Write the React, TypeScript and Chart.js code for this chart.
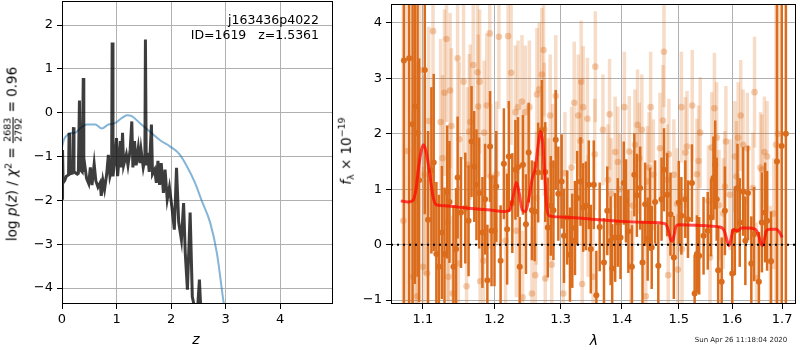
import React, { useEffect, useRef } from 'react';
import { Chart, registerables } from 'chart.js';

Chart.register(...registerables);

const FONT = "'DejaVu Sans', 'Liberation Sans', sans-serif";

// ---------------- left panel: log p(z) ----------------
const zTicks = [0, 1, 2, 3, 4];
const logpTicks = [-4, -3, -2, -1, 0, 1, 2];
const zRange = [0, 4.97];
const logpRange = [-4.365, 2.548];

const zPz = [
  0.00, 0.01, 0.02, 0.05, 0.08, 0.12, 0.13, 0.14, 0.19, 0.21,
  0.22, 0.28, 0.30, 0.32, 0.335, 0.37, 0.39, 0.40, 0.42, 0.45,
  0.49, 0.52, 0.55, 0.59, 0.62, 0.66, 0.70, 0.72, 0.75, 0.78,
  0.82, 0.85, 0.88, 0.91, 0.92, 0.935, 0.97, 1.00, 1.02, 1.05,
  1.07, 1.09, 1.11, 1.13, 1.18, 1.21, 1.25, 1.28, 1.30, 1.33,
  1.36, 1.40, 1.43, 1.45, 1.49, 1.52, 1.53, 1.545, 1.57, 1.60,
  1.64, 1.66, 1.70, 1.73, 1.76, 1.79, 1.82, 1.86, 1.89, 1.93,
  1.97, 2.02, 2.06, 2.10, 2.14, 2.19, 2.23, 2.26, 2.30, 2.35,
  2.39, 2.44, 2.49, 2.52, 2.55,
];
const logPz = [
  -1.95, -0.85, -1.60, -1.55, -1.45, -1.42, -0.46, -1.40, -1.38, -0.33,
  -1.35, -1.40, -1.38, 0.28, -1.30, -1.35, 0.79, -1.35, -1.22, -1.50,
  -1.62, -1.25, -1.65, -1.17, -1.55, -1.70, -1.60, -1.90, -1.55, -1.75,
  -1.40, -0.96, -1.45, -1.30, 1.60, -1.45, -1.07, -0.58, -1.45, -1.00,
  -0.65, -1.25, -0.46, -1.20, -0.95, -1.20, -0.85, -0.20, -1.25, -0.65,
  -1.20, -0.80, -1.15, -0.85, -1.25, -1.05, 1.67, -1.20, -0.92, -1.35,
  -0.27, -1.40, -1.30, -1.60, -1.10, -1.65, -1.15, -1.83, -1.30, -1.98,
  -1.70, -2.20, -2.67, -1.26, -2.50, -2.90, -2.06, -3.19, -4.04, -2.28,
  -4.20, -4.50, -4.40, -3.81, -4.60,
];

const zPrior = [
  0.00, 0.04, 0.09, 0.15, 0.24, 0.33, 0.45, 0.61, 0.73, 0.85,
  0.97, 1.10, 1.19, 1.28, 1.43, 1.61, 1.80, 1.98, 2.15, 2.29,
  2.44, 2.56, 2.72, 2.84, 2.96, 3.02,
];
const logPrior = [
  -0.78, -0.60, -0.52, -0.47, -0.46, -0.36, -0.27, -0.27, -0.36, -0.27,
  -0.24, -0.12, -0.06, -0.08, -0.24, -0.43, -0.63, -0.77, -0.94, -1.22,
  -1.60, -2.00, -2.52, -3.20, -4.30, -4.80,
];

// ---------------- right panel: spectrum ----------------
const lamTicks = [1.1, 1.2, 1.3, 1.4, 1.5, 1.6, 1.7];
const fluxTicks = [-1, 0, 1, 2, 3, 4];
const lamRange = [1.0584, 1.7289];
const fluxRange = [-1.07, 4.34];
const zeroLevel = 0;

const lamDark = [
  1.0751, 1.0820, 1.0864, 1.0894, 1.0930, 1.0951, 1.1026, 1.1070, 1.1115, 1.1146,
  1.1182, 1.1216, 1.1257, 1.1293, 1.1330, 1.1361, 1.1416, 1.1452, 1.1474, 1.1521,
  1.1581, 1.1627, 1.1669, 1.1707, 1.1739, 1.1777, 1.1824, 1.1862, 1.1895, 1.1934,
  1.1955, 1.1998, 1.2024, 1.2087, 1.2135, 1.2183, 1.2208, 1.2260, 1.2306, 1.2345,
  1.2370, 1.2419, 1.2464, 1.2505, 1.2555, 1.2596, 1.2650, 1.2707, 1.2759, 1.2799,
  1.2845, 1.2886, 1.2922, 1.2963, 1.3015, 1.3052, 1.3104, 1.3147, 1.3184, 1.3227,
  1.3263, 1.3316, 1.3359, 1.3403, 1.3450, 1.3483, 1.3532, 1.3574, 1.3629, 1.3700,
  1.3755, 1.3811, 1.3837, 1.3887, 1.3931, 1.3977, 1.4032, 1.4071, 1.4111, 1.4172,
  1.4213, 1.4257, 1.4315, 1.4355, 1.4401, 1.4445, 1.4488, 1.4516, 1.4575, 1.4632,
  1.4690, 1.4733, 1.4791, 1.4850, 1.4910, 1.5000, 1.5047, 1.5119, 1.5168, 1.5241,
  1.5291, 1.5333, 1.5375, 1.5457, 1.5536, 1.5598, 1.5643, 1.5677, 1.5705, 1.5733,
  1.5800, 1.5862, 1.6004, 1.6054, 1.6106, 1.6150, 1.6216, 1.6260, 1.6312, 1.6378,
  1.6431, 1.6529, 1.6589, 1.6654, 1.6694, 1.6774, 1.6895, 1.6992, 1.7078,
];
const fluxDark = [
  3.32, 3.36, 2.17, 2.49, 2.02, 1.16, 3.15, 0.45, 1.34, 1.48,
  -0.17, -0.40, 0.22, -0.17, 0.95, 0.77, -0.40, -0.08, 1.21, 0.58,
  0.66, 0.43, 1.86, 1.41, 1.08, 0.93, 0.22, 0.82, -0.64, 1.77,
  0.25, 0.25, 1.05, -0.29, 1.46, 0.28, 1.59, 0.75, 1.35, 1.40,
  -0.40, 1.44, 0.37, 1.66, 0.62, 0.60, 1.30, 2.07, 1.31, 0.31,
  0.70, 0.62, 1.89, 0.92, 1.14, 0.16, 0.49, -0.18, 0.07, 0.30,
  0.84, 1.14, 0.67, 0.70, 1.08, -0.08, 1.08, -0.91, 0.32, -0.32,
  0.61, 0.07, -0.43, 0.13, 0.40, 0.13, 1.11, 0.79, 0.24, -0.40,
  1.26, 0.89, 1.02, -0.32, 0.73, 0.10, 0.64, -0.05, 0.77, -0.38,
  0.82, 1.35, 0.90, 0.55, -0.23, 0.76, 0.52, 0.82, 0.46, 1.11,
  -0.88, -0.17, -0.20, 0.16, 0.25, 0.49, 1.20, 1.44, 0.82, -0.46,
  -0.67, 0.61, -0.52, 0.25, 1.02, 0.40, 0.96, 0.07, 0.93, -0.34,
  0.19, -0.67, 0.40, 0.58, 0.43, -0.30, 1.50, 1.78, 2.00,
];
const errDark = [
  5.0, 5.0, 4.0, 3.2, 2.6, 2.2, 2.6, 1.6, 1.5, 1.6,
  1.3, 1.3, 1.2, 1.2, 1.2, 1.1, 1.1, 1.1, 1.1, 1.0,
  1.0, 1.0, 1.0, 1.0, 1.0, 1.0, 1.0, 1.0, 1.0, 1.0,
  1.0, 1.0, 1.0, 1.0, 1.0, 1.0, 1.0, 0.9, 0.9, 0.9,
  0.9, 0.9, 0.9, 0.9, 0.9, 0.9, 0.9, 0.9, 0.9, 0.9,
  0.9, 0.9, 0.9, 0.85, 0.85, 0.85, 0.85, 0.85, 0.85, 0.85,
  0.85, 0.8, 0.8, 0.8, 0.8, 0.8, 0.8, 0.8, 0.8, 0.8,
  0.8, 0.8, 0.8, 0.8, 0.8, 0.75, 0.75, 0.75, 0.75, 0.75,
  0.75, 0.75, 0.75, 0.75, 0.75, 0.75, 0.75, 0.75, 0.75, 0.75,
  0.75, 0.75, 0.75, 0.75, 0.75, 0.75, 0.7, 0.7, 0.7, 0.7,
  0.7, 0.7, 0.7, 0.7, 0.7, 0.7, 0.75, 0.8, 0.75, 0.8,
  0.8, 0.8, 0.8, 0.8, 0.8, 0.8, 0.8, 0.8, 0.85, 0.85,
  0.85, 0.9, 0.9, 0.9, 0.9, 0.9, 6.0, 6.0, 6.0,
];

const lamLight = [
  1.0743, 1.0794, 1.0872, 1.0916, 1.0924, 1.0960, 1.1004, 1.1026, 1.1057, 1.1079,
  1.1137, 1.1240, 1.1266, 1.1293, 1.1320, 1.1338, 1.1348, 1.1370, 1.1388, 1.1405,
  1.1474, 1.1484, 1.1498, 1.1557, 1.1599, 1.1613, 1.1637, 1.1651, 1.1693, 1.1753,
  1.1763, 1.1784, 1.1791, 1.1838, 1.1848, 1.1886, 1.1929, 1.1943, 1.2029, 1.2062,
  1.2160, 1.2198, 1.2242, 1.2306, 1.2321, 1.2345, 1.2404, 1.2414, 1.2455, 1.2516,
  1.2555, 1.2606, 1.2621, 1.2631, 1.2667, 1.2707, 1.2733, 1.2745, 1.2759, 1.2809,
  1.2835, 1.2860, 1.2875, 1.2922, 1.3041, 1.3067, 1.3172, 1.3215, 1.3279, 1.3316,
  1.3327, 1.3343, 1.3359, 1.3428, 1.3439, 1.3520, 1.3547, 1.3557, 1.3683, 1.3765,
  1.3793, 1.3820, 1.3887, 1.3931, 1.3959, 1.4043, 1.4127, 1.4155, 1.4184, 1.4223,
  1.4269, 1.4298, 1.4343, 1.4412, 1.4441, 1.4470, 1.4497, 1.4545, 1.4662, 1.4715,
  1.4733, 1.4791, 1.4809, 1.4821, 1.4910, 1.4969, 1.4983, 1.5047, 1.5058, 1.5119,
  1.5150, 1.5246, 1.5333, 1.5364, 1.5394, 1.5549, 1.5579, 1.5611, 1.5661, 1.5705,
  1.5748, 1.5832, 1.5862, 1.5881, 1.5960, 1.6054, 1.6086, 1.6119, 1.6169, 1.6216,
  1.6299, 1.6410, 1.6442, 1.6480, 1.6561, 1.6589, 1.6640, 1.6694, 1.6760, 1.6829,
  1.6875, 1.6916,
];
const fluxLight = [
  0.43, 1.69, -0.58, 0.80, -0.93, 3.15, -0.40, 1.26, -0.52, 2.23,
  3.85, 2.21, 1.56, 2.74, 3.71, 0.40, -0.58, 2.78, 2.14, -0.88,
  3.36, -0.34, 1.90, 2.94, -0.75, 1.44, 2.04, 2.21, 3.24, 3.11,
  2.49, 2.94, -0.66, -0.29, 2.02, 2.51, 3.81, 1.23, 1.28, 3.75,
  0.07, 3.76, 3.10, 2.39, 0.25, 2.48, 2.58, -0.95, 2.39, 2.48,
  -0.88, -0.55, 0.84, 2.71, 2.80, 3.07, 3.51, 2.08, -0.61, 0.82,
  2.33, -0.36, 1.44, 2.68, -0.88, 1.29, 1.39, 2.56, 2.33, 1.87,
  2.94, -0.71, 2.48, 2.27, 0.52, -0.58, 1.63, 3.21, 2.07, 1.17,
  2.35, 0.92, 1.67, 1.49, 1.00, 2.48, 1.68, -0.38, 0.70, 1.80,
  2.16, 1.56, 2.07, -0.93, 1.14, 1.39, 2.48, 1.26, 1.74, 2.24,
  3.48, 1.17, -0.55, 1.63, 1.26, 0.74, -0.45, 2.48, -0.08, 1.66,
  1.77, 2.51, 1.27, 1.51, 2.02, 0.79, -0.23, 1.75, 2.46, 1.93,
  0.71, 0.56, 1.05, 1.86, 0.90, 1.59, 1.23, 1.93, 2.33, 1.80,
  1.74, 1.02, 2.75, -0.60, 1.39, 1.35, 1.67, 1.59, -0.30, 0.56,
  1.80, 2.00,
];
const errLight = [
  4.5, 4.0, 3.0, 2.5, 2.5, 2.0, 1.8, 1.8, 1.7, 1.7,
  1.6, 1.5, 1.5, 1.5, 1.5, 1.4, 1.4, 1.4, 1.4, 1.4,
  1.4, 1.4, 1.4, 1.4, 1.4, 1.4, 1.4, 1.4, 1.3, 1.3,
  1.3, 1.3, 1.3, 1.3, 1.3, 1.3, 1.3, 1.3, 1.3, 1.3,
  1.3, 1.3, 1.3, 1.2, 1.2, 1.2, 1.2, 1.2, 1.2, 1.2,
  1.2, 1.2, 1.2, 1.2, 1.2, 1.2, 1.2, 1.2, 1.2, 1.1,
  1.1, 1.1, 1.1, 1.1, 1.1, 1.1, 1.1, 1.1, 1.1, 1.1,
  1.1, 1.1, 1.1, 1.1, 1.1, 1.0, 1.0, 1.0, 1.0, 1.0,
  1.0, 1.0, 1.0, 1.0, 1.0, 1.0, 1.0, 1.0, 1.0, 1.0,
  1.0, 1.0, 1.0, 1.0, 1.0, 1.0, 1.0, 1.0, 1.0, 1.0,
  1.0, 1.0, 1.0, 1.0, 1.0, 1.0, 1.0, 1.0, 1.0, 1.0,
  1.0, 1.0, 1.0, 1.0, 1.0, 1.0, 1.0, 1.0, 1.0, 1.0,
  1.0, 1.0, 1.0, 1.0, 1.0, 1.0, 1.0, 1.0, 1.0, 1.0,
  1.0, 1.0, 1.0, 1.0, 1.0, 1.0, 1.0, 1.0, 1.0, 1.0,
  6.0, 6.0,
];

const lamModel = [
  1.071, 1.080, 1.087, 1.091, 1.094, 1.098, 1.101, 1.104, 1.108, 1.111,
  1.114, 1.118, 1.130, 1.160, 1.190, 1.215, 1.222, 1.227, 1.232, 1.236,
  1.241, 1.246, 1.251, 1.256, 1.261, 1.265, 1.269, 1.272, 1.275, 1.278,
  1.282, 1.300, 1.350, 1.400, 1.450, 1.475, 1.480, 1.485, 1.488, 1.491,
  1.495, 1.500, 1.550, 1.575, 1.585, 1.591, 1.594, 1.598, 1.602, 1.607,
  1.612, 1.618, 1.630, 1.645, 1.652, 1.657, 1.660, 1.664, 1.668, 1.675,
  1.688, 1.695, 1.700,
];
const fluxModel = [
  0.79, 0.77, 0.80, 1.00, 1.35, 1.70, 1.80, 1.70, 1.40, 1.10,
  0.85, 0.72, 0.70, 0.66, 0.63, 0.60, 0.62, 0.85, 1.12, 0.95,
  0.62, 0.60, 0.85, 1.20, 1.40, 1.80, 2.04, 1.85, 1.30, 0.70,
  0.52, 0.50, 0.46, 0.42, 0.40, 0.38, 0.30, 0.10, 0.06, 0.15,
  0.33, 0.36, 0.34, 0.32, 0.25, 0.05, -0.02, 0.10, 0.27, 0.26,
  0.25, 0.30, 0.30, 0.28, 0.18, 0.02, -0.02, 0.10, 0.25, 0.28,
  0.28, 0.22, 0.13,
];

// ---------------- helpers ----------------
const fmtNum = (v: number, d: number) => (v < 0 ? '\u2212' : '') + Math.abs(v).toFixed(d);
const tickFont = { family: FONT, size: 13 };
const gridOpts = { color: '#b0b0b0', lineWidth: 1, tickColor: '#000', tickLength: 5, drawTicks: true, offset: false };

const boxPlugin = {
  id: 'axesBox',
  afterDatasetsDraw(chart: any) {
    const { ctx, chartArea } = chart;
    ctx.save();
    ctx.strokeStyle = '#000';
    ctx.lineWidth = 1;
    ctx.strokeRect(chartArea.left + 0.5, chartArea.top + 0.5, chartArea.right - chartArea.left - 1, chartArea.bottom - chartArea.top - 1);
    ctx.restore();
  },
};

const DARK = 'rgb(219,108,28)';
const LIGHT_BAR = 'rgba(217,95,2,0.22)';
const LIGHT_PT = 'rgba(217,95,2,0.3)';

export default function App() {
  const leftRef = useRef<HTMLCanvasElement>(null);
  const rightRef = useRef<HTMLCanvasElement>(null);

  useEffect(() => {
    const left = new Chart(leftRef.current as HTMLCanvasElement, {
      type: 'line',
      data: {
        datasets: [
          {
            data: zPz.map((z, i) => ({ x: z, y: logPz[i] })),
            borderColor: 'rgba(0,0,0,0.76)',
            borderWidth: 3,
            pointRadius: 0,
            tension: 0,
            clip: 0,
            order: 0,
          } as any,
          {
            data: zPrior.map((z, i) => ({ x: z, y: logPrior[i] })),
            borderColor: 'rgba(31,119,180,0.55)',
            borderWidth: 2,
            pointRadius: 0,
            cubicInterpolationMode: 'monotone',
            clip: 0,
            order: 1,
          } as any,
        ],
      },
      options: {
        animation: false,
        responsive: false,
        maintainAspectRatio: false,
        events: [],
        layout: { padding: { top: 1, right: 7, left: 0, bottom: 0 } },
        plugins: { legend: { display: false }, tooltip: { enabled: false } },
        scales: {
          x: {
            type: 'linear',
            min: zRange[0],
            max: zRange[1],
            grid: gridOpts,
            border: { display: false },
            afterBuildTicks: (s: any) => { s.ticks = zTicks.map((v) => ({ value: v })); },
            afterFit: (s: any) => { s.height = 46; s.paddingLeft = 0; s.paddingRight = 0; },
            ticks: { font: tickFont, color: '#000', padding: 3, autoSkip: false, maxRotation: 0, callback: (v: any) => fmtNum(Number(v), 0) },
          },
          y: {
            type: 'linear',
            min: logpRange[0],
            max: logpRange[1],
            grid: gridOpts,
            border: { display: false },
            afterBuildTicks: (s: any) => { s.ticks = logpTicks.map((v) => ({ value: v })); },
            afterFit: (s: any) => { s.width = 62; s.paddingTop = 0; s.paddingBottom = 0; },
            ticks: { font: tickFont, color: '#000', padding: 4, autoSkip: false, callback: (v: any) => fmtNum(Number(v), 0) },
          },
        },
      } as any,
      plugins: [boxPlugin],
    });

    const right = new Chart(rightRef.current as HTMLCanvasElement, {
      type: 'scatter',
      data: {
        datasets: [
          {
            type: 'line',
            data: [{ x: lamRange[0], y: zeroLevel }, { x: lamRange[1], y: zeroLevel }],
            borderColor: '#000',
            borderWidth: 2,
            borderDash: [2, 4],
            pointRadius: 0,
            showLine: true,
            clip: 0,
            order: 0,
          },
          {
            type: 'line',
            data: lamModel.map((l, i) => ({ x: l, y: fluxModel[i] })),
            borderColor: 'rgba(255,0,0,0.7)',
            borderWidth: 3,
            pointRadius: 0,
            showLine: true,
            cubicInterpolationMode: 'monotone',
            clip: 0,
            order: 1,
          },
          {
            type: 'scatter',
            data: lamDark.map((l, i) => ({ x: l, y: fluxDark[i] })),
            backgroundColor: DARK,
            borderWidth: 0,
            pointRadius: 3,
            order: 2,
          },
          {
            type: 'bar',
            data: lamDark.map((l, i) => ({ x: l, y: [fluxDark[i] - errDark[i], fluxDark[i] + errDark[i]] })),
            backgroundColor: DARK,
            borderWidth: 0,
            barThickness: 2.5,
            inflateAmount: 0,
            grouped: false,
            order: 3,
          },
          {
            type: 'scatter',
            data: lamLight.map((l, i) => ({ x: l, y: fluxLight[i] })),
            backgroundColor: LIGHT_PT,
            borderWidth: 0,
            pointRadius: 3.3,
            order: 4,
          },
          {
            type: 'bar',
            data: lamLight.map((l, i) => ({ x: l, y: [fluxLight[i] - errLight[i], fluxLight[i] + errLight[i]] })),
            backgroundColor: LIGHT_BAR,
            borderWidth: 0,
            barThickness: 3.5,
            inflateAmount: 0,
            grouped: false,
            order: 5,
          },
        ] as any,
      },
      options: {
        animation: false,
        responsive: false,
        maintainAspectRatio: false,
        events: [],
        layout: { padding: { top: 1, right: 1, left: 0, bottom: 0 } },
        plugins: { legend: { display: false }, tooltip: { enabled: false } },
        scales: {
          x: {
            type: 'logarithmic',
            min: lamRange[0],
            max: lamRange[1],
            offset: false,
            grid: gridOpts,
            border: { display: false },
            afterBuildTicks: (s: any) => { s.ticks = lamTicks.map((v) => ({ value: v })); },
            afterFit: (s: any) => { s.height = 46; s.paddingLeft = 0; s.paddingRight = 0; },
            ticks: { font: tickFont, color: '#000', padding: 3, autoSkip: false, maxRotation: 0, callback: (v: any) => Number(v).toFixed(1) },
          },
          y: {
            type: 'linear',
            min: fluxRange[0],
            max: fluxRange[1],
            grid: gridOpts,
            border: { display: false },
            afterBuildTicks: (s: any) => { s.ticks = fluxTicks.map((v) => ({ value: v })); },
            afterFit: (s: any) => { s.width = 51; s.paddingTop = 0; s.paddingBottom = 0; },
            ticks: { font: tickFont, color: '#000', padding: 4, autoSkip: false, callback: (v: any) => fmtNum(Number(v), 0) },
          },
        },
      } as any,
      plugins: [boxPlugin],
    });

    return () => {
      left.destroy();
      right.destroy();
    };
  }, []);

  const rot: React.CSSProperties = {
    position: 'absolute',
    transform: 'translate(-50%, -50%) rotate(-90deg)',
    whiteSpace: 'nowrap',
    fontFamily: FONT,
    color: '#000',
    lineHeight: 1,
  };
  const center: React.CSSProperties = {
    position: 'absolute',
    transform: 'translate(-50%, -50%)',
    whiteSpace: 'nowrap',
    fontFamily: FONT,
    color: '#000',
    lineHeight: 1,
  };

  return (
    <div style={{ position: 'absolute', left: 0, top: 0, width: 800, height: 350, background: '#fff', overflow: 'hidden' }}>
      <canvas ref={leftRef} width={340} height={350} style={{ position: 'absolute', left: 0, top: 0 }} />
      <canvas ref={rightRef} width={460} height={350} style={{ position: 'absolute', left: 340, top: 0 }} />

      {/* left y-axis label */}
      <div style={{ ...rot, left: 13, top: 154, fontSize: 13.5 }}>
        log <i>p</i>(<i>z</i>) / <i>χ</i>
        <span style={{ fontSize: '0.7em', verticalAlign: '0.6em' }}>2</span>
        {' = '}
        <span style={{ display: 'inline-flex', flexDirection: 'column', alignItems: 'center', verticalAlign: 'middle', fontSize: 9.5, lineHeight: 1.05 }}>
          <span style={{ borderBottom: '1px solid #000', padding: '0 1px' }}>2683</span>
          <span>2792</span>
        </span>
        {' = 0.96'}
      </div>

      {/* right y-axis label */}
      <div style={{ ...rot, left: 346, top: 151, fontSize: 13.5 }}>
        <i>f</i>
        <span style={{ fontSize: '0.7em', verticalAlign: '-0.35em' }}>λ</span>
        {' × 10'}
        <span style={{ fontSize: '0.7em', verticalAlign: '0.6em' }}>−19</span>
      </div>

      {/* x-axis labels */}
      <div style={{ ...center, left: 196, top: 339, fontSize: 14, fontStyle: 'italic' }}>z</div>
      <div style={{ ...center, left: 594, top: 340, fontSize: 14, fontStyle: 'italic' }}>λ</div>

      {/* annotation */}
      <div style={{ position: 'absolute', right: 481, top: 12, textAlign: 'right', fontFamily: FONT, fontSize: 12.5, lineHeight: '15px', whiteSpace: 'pre', color: '#000' }}>
        {'j163436p4022\nID=1619   z=1.5361'}
      </div>

      {/* timestamp */}
      <div style={{ ...center, left: 741, top: 340, fontSize: 7, color: '#222' }}>Sun Apr 26 11:18:04 2020</div>
    </div>
  );
}
